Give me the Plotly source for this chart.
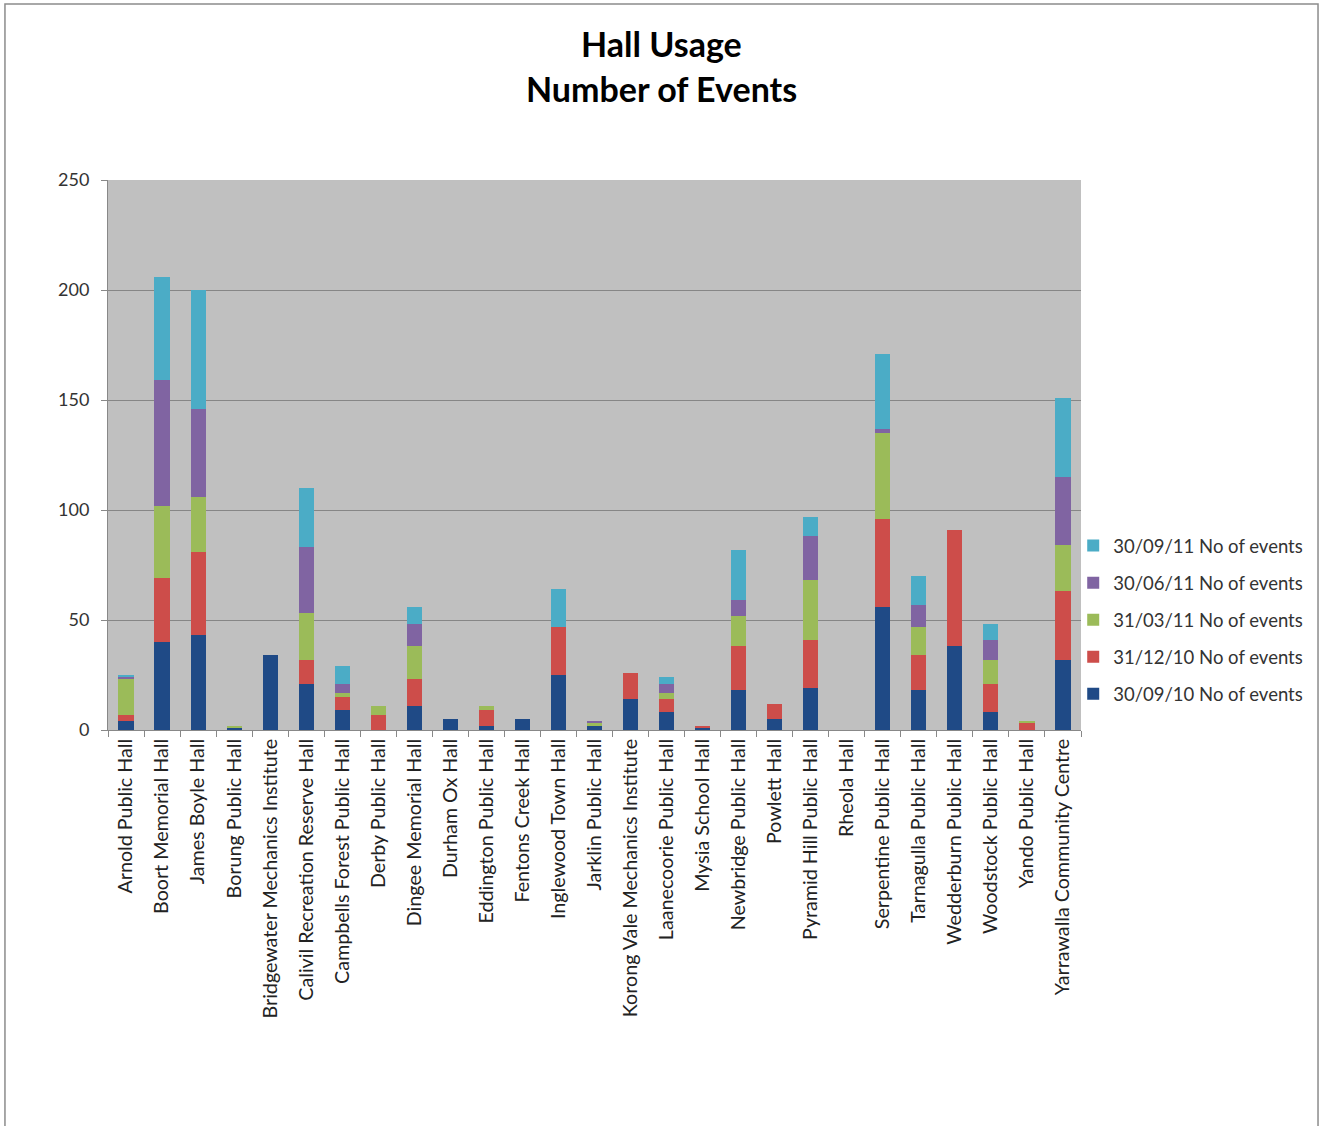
import plotly.graph_objects as go

halls = [
    "Arnold Public Hall", "Boort Memorial Hall", "James Boyle Hall", "Borung Public Hall",
    "Bridgewater Mechanics Institute", "Calivil Recreation Reserve Hall",
    "Campbells Forest Public Hall", "Derby Public Hall", "Dingee Memorial Hall",
    "Durham Ox Hall", "Eddington Public Hall", "Fentons Creek Hall", "Inglewood Town Hall",
    "Jarklin Public Hall", "Korong Vale Mechanics Institute", "Laanecoorie Public Hall",
    "Mysia School Hall", "Newbridge Public Hall", "Powlett Hall", "Pyramid Hill Public Hall",
    "Rheola Hall", "Serpentine Public Hall", "Tarnagulla Public Hall",
    "Wedderburn Public Hall", "Woodstock Public Hall", "Yando Public Hall",
    "Yarrawalla Community Centre",
]

q_sep10 = [4, 40, 43, 1, 34, 21, 9, 0, 11, 5, 2, 5, 25, 2, 14, 8, 1, 18, 5, 19, 0, 56, 18, 38, 8, 0, 32]
q_dec10 = [3, 29, 38, 0, 0, 11, 6, 7, 12, 0, 7, 0, 22, 0, 12, 6, 1, 20, 7, 22, 0, 40, 16, 53, 13, 3, 31]
q_mar11 = [16, 33, 25, 1, 0, 21, 2, 4, 15, 0, 2, 0, 0, 1, 0, 3, 0, 14, 0, 27, 0, 39, 13, 0, 11, 1, 21]
q_jun11 = [1, 57, 40, 0, 0, 30, 4, 0, 10, 0, 0, 0, 0, 1, 0, 4, 0, 7, 0, 20, 0, 2, 10, 0, 9, 0, 31]
q_sep11 = [1, 47, 54, 0, 0, 27, 8, 0, 8, 0, 0, 0, 17, 0, 0, 3, 0, 23, 0, 9, 0, 34, 13, 0, 7, 0, 36]

series_names = [
    "30/09/10 No of events", "31/12/10 No of events", "31/03/11 No of events",
    "30/06/11 No of events", "30/09/11 No of events",
]
series_values = [q_sep10, q_dec10, q_mar11, q_jun11, q_sep11]
series_colors = ["#1F4A86", "#CD4D4A", "#9BBB59", "#8064A2", "#4BACC6"]

y_ticks = [0, 50, 100, 150, 200, 250]
title_lines = ["Hall Usage", "Number of Events"]

FONT = "Lato, 'Open Sans', sans-serif"

fig = go.Figure()
n = len(series_names)
for i, (name, vals, col) in enumerate(zip(series_names, series_values, series_colors)):
    fig.add_trace(go.Bar(
        x=halls, y=vals, name=name, marker=dict(color=col, line=dict(width=0)),
        legendgroup=name, legendrank=n - i,
    ))

fig.update_layout(
    width=1325, height=1126,
    barmode="stack", bargap=0.58,
    paper_bgcolor="white", plot_bgcolor="#C0C0C0",
    margin=dict(l=108, r=244, t=180, b=396, autoexpand=False),
    font=dict(family=FONT, color="#333333", size=17),
    legend=dict(
        x=0.992, xanchor="left", y=0.369, yanchor="top",
        traceorder="grouped", tracegroupgap=10,
        font=dict(family=FONT, size=18.5, color="#333333"),
        itemwidth=30, bgcolor="rgba(0,0,0,0)",
    ),
    showlegend=True,
)

# two-line bold title
for txt, ypix in zip(title_lines, [44, 88]):
    fig.add_annotation(
        text="<b>%s</b>" % txt, xref="paper", yref="paper",
        x=(661 - 108) / 973, y=(730 - ypix) / 550,
        xanchor="center", yanchor="middle", showarrow=False,
        font=dict(family=FONT, size=34, color="black"),
    )

fig.update_xaxes(
    type="category", tickangle=-90, tickson="boundaries", ticks="outside",
    ticklen=6, tickcolor="#888888", showline=True, linecolor="#888888",
    showgrid=False, tickfont=dict(size=19.7, family=FONT, color="#222222"),
)
fig.update_yaxes(
    range=[0, 250], tickvals=y_ticks, ticks="outside", ticklen=6,
    tickcolor="#888888", showline=True, linecolor="#888888",
    gridcolor="#868686", gridwidth=1, zeroline=False, ticklabelstandoff=8,
    tickfont=dict(size=18, family=FONT, color="#333333"),
)

# outer chart frame
fig.add_shape(type="rect", xref="paper", yref="paper",
              x0=-0.1059, x1=1.2436, y0=-0.73, y1=1.32,
              line=dict(color="#8C8C8C", width=1.5), fillcolor="rgba(0,0,0,0)",
              layer="below")

fig.write_html("out.html")
